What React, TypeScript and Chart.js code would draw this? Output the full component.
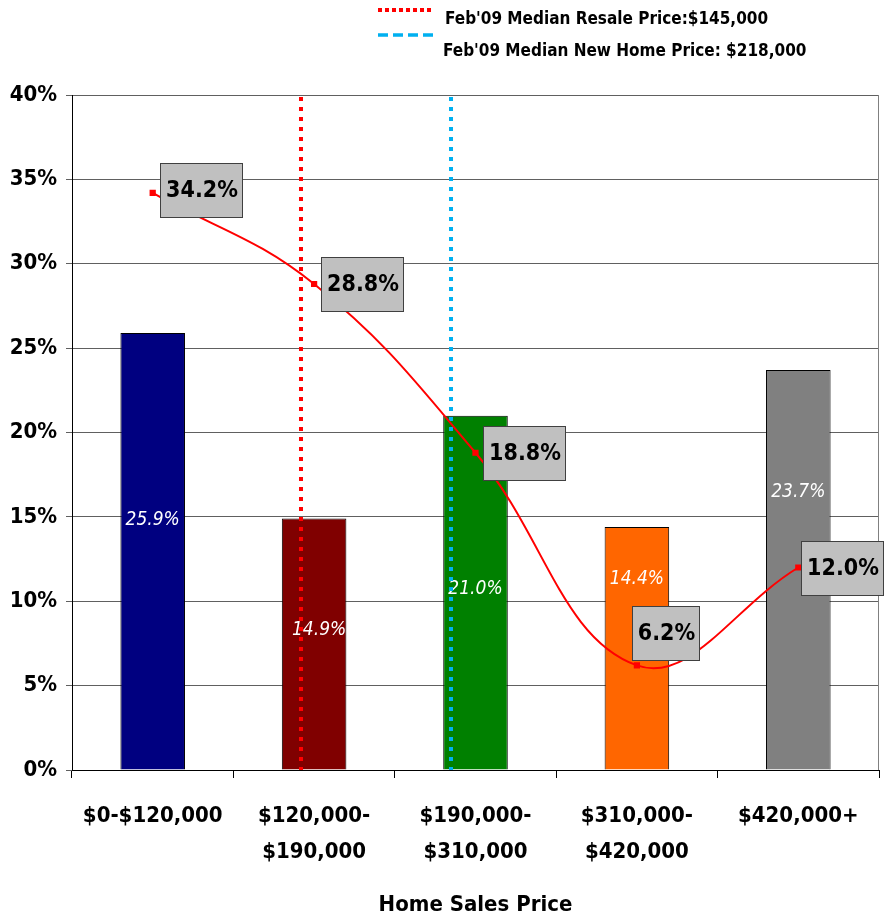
import React, { useEffect, useRef } from "react";
import { Chart, registerables } from "chart.js";

Chart.register(...registerables);

const categories: (string | string[])[] = [
  "$0-$120,000",
  ["$120,000-", "$190,000"],
  ["$190,000-", "$310,000"],
  ["$310,000-", "$420,000"],
  "$420,000+",
];
const salesShare = [25.9, 14.9, 21.0, 14.4, 23.7];
const lineShare = [34.2, 28.8, 18.8, 6.2, 12.0];
const barColors = ["#000080", "#800000", "#008000", "#FF6600", "#808080"];
const barLabelLevel = [14.8, 8.3, 10.7, 11.3, 16.5];
const medianMarkers = [0.92, 1.846];
const medianColors = ["#FF0000", "#00B0F0"];
const yTicks = [0, 5, 10, 15, 20, 25, 30, 35, 40];
const legendLabels = [
  "Feb'09 Median Resale Price:$145,000",
  "Feb'09 Median New Home Price: $218,000",
];
const axisTitle = "Home Sales Price";

const FONT = '"Liberation Sans Narrow", "DejaVu Sans Condensed", "Arial Narrow", sans-serif';
const labelOffsets = [
  [7, -3],
  [7, 0],
  [7, 0],
  [-5, -32],
  [3, 0],
];

const labelPlugin = {
  id: "customLabels",
  beforeDatasetsDraw(chart: any) {
    const ctx = chart.ctx;
    const a = chart.chartArea;
    ctx.save();
    ctx.strokeStyle = "#808080";
    ctx.lineWidth = 1;
    ctx.beginPath();
    ctx.moveTo(Math.round(a.right) - 0.5, a.top);
    ctx.lineTo(Math.round(a.right) - 0.5, a.bottom);
    ctx.stroke();
    ctx.restore();
  },
  afterDatasetDraw(chart: any, args: any) {
    if (args.index !== 0) return;
    const ctx = chart.ctx;
    const { x, y } = chart.scales;
    ctx.save();
    ctx.fillStyle = "#ffffff";
    ctx.font = `italic 19px ${FONT}`;
    ctx.textAlign = "center";
    ctx.textBaseline = "middle";
    args.meta.data.forEach((bar: any, i: number) => {
      const yy = y.getPixelForValue(barLabelLevel[i]);
      ctx.fillText(salesShare[i].toFixed(1) + "%", bar.x + (i === 1 ? 5 : 0), yy);
    });
    // median marker lines
    ctx.lineWidth = 4;
    ctx.setLineDash([4, 6]);
    ctx.lineCap = "butt";
    medianMarkers.forEach((m, i) => {
      const px = Math.round(x.getPixelForValue(m));
      ctx.strokeStyle = medianColors[i];
      ctx.beginPath();
      ctx.moveTo(px, y.getPixelForValue(40) + 2);
      ctx.lineTo(px, y.getPixelForValue(0));
      ctx.stroke();
    });
    ctx.restore();
  },
  afterDatasetsDraw(chart: any) {
    const meta = chart.getDatasetMeta(1);
    const ctx = chart.ctx;
    ctx.save();
    ctx.font = `bold 23px ${FONT}`;
    ctx.textBaseline = "middle";
    ctx.textAlign = "center";
    meta.data.forEach((pt: any, i: number) => {
      const text = lineShare[i].toFixed(1) + "%";
      const w = Math.round(ctx.measureText(text).width + 10);
      const h = 54;
      const x0 = Math.round(pt.x + labelOffsets[i][0]);
      const yc = Math.round(pt.y + labelOffsets[i][1]);
      ctx.fillStyle = "#C0C0C0";
      ctx.fillRect(x0, yc - h / 2, w, h);
      ctx.strokeStyle = "#404040";
      ctx.lineWidth = 1;
      ctx.strokeRect(x0 + 0.5, yc - h / 2 + 0.5, w, h);
      ctx.fillStyle = "#000000";
      ctx.fillText(text, x0 + w / 2 + 1, yc + 1);
    });
    ctx.restore();
  },
};

export default function App() {
  const ref = useRef<HTMLCanvasElement>(null);
  useEffect(() => {
    if (!ref.current) return;
    const chart = new Chart(ref.current, {
      type: "bar",
      data: {
        labels: categories as any,
        datasets: [
          {
            type: "bar",
            data: salesShare,
            backgroundColor: barColors,
            borderColor: "#000000",
            borderWidth: 1,
            barPercentage: 0.8,
            categoryPercentage: 0.5,
            order: 3,
          } as any,
          {
            type: "line",
            data: lineShare,
            borderColor: "#FF0000",
            backgroundColor: "#FF0000",
            borderWidth: 2,
            tension: 0.4,
            pointStyle: "rect",
            pointRadius: 3,
            order: 1,
          } as any,
        ],
      },
      options: {
        animation: false,
        responsive: false,
        maintainAspectRatio: false,
        layout: { padding: { top: 95, right: 3, left: 0, bottom: 0 } },
        plugins: { legend: { display: false }, tooltip: { enabled: false } },
        scales: {
          x: {
            type: "category",
            offset: true,
            grid: {
              offset: true,
              drawOnChartArea: false,
              drawTicks: true,
              tickLength: 8,
              color: "#000000",
            },
            border: { display: true, color: "#000000", width: 1 },
            ticks: {
              color: "#000000",
              font: { family: FONT, size: 22, weight: "bold", lineHeight: 1.6 },
              padding: 21,
              maxRotation: 0,
              autoSkip: false,
            },
            title: {
              display: true,
              text: axisTitle,
              color: "#000000",
              font: { family: FONT, size: 22, weight: "bold" },
              padding: { top: 0, bottom: 5 },
            },
            afterFit: (s: any) => {
              s.height = 153;
              s.paddingLeft = 0;
              s.paddingRight = 0;
            },
          },
          y: {
            min: 0,
            max: 40,
            afterBuildTicks: (s: any) => {
              s.ticks = yTicks.map((v) => ({ value: v }));
            },
            grid: { color: "#606060", tickLength: 6, drawTicks: true },
            border: { display: true, color: "#000000", width: 1 },
            ticks: {
              color: "#000000",
              padding: 9,
              font: { family: FONT, size: 22, weight: "bold" },
              callback: (v: any) => v + "%",
            },
            afterFit: (s: any) => {
              s.width = 72;
            },
          },
        },
      },
      plugins: [labelPlugin],
    } as any);
    return () => chart.destroy();
  }, []);

  const legendText: React.CSSProperties = {
    position: "absolute",
    fontFamily: FONT,
    fontWeight: "bold",
    fontSize: 17,
    color: "#000",
    whiteSpace: "nowrap",
    lineHeight: "20px",
  };

  return (
    <div style={{ position: "absolute", left: 0, top: 0, width: 885, height: 923, background: "#fff" }}>
      <canvas ref={ref} width={885} height={923} style={{ position: "absolute", left: 0, top: 0 }} />
      <svg width={885} height={70} style={{ position: "absolute", left: 0, top: 0 }}>
        <line x1={378} y1={10} x2={432} y2={10} stroke="#FF0000" strokeWidth={4} strokeDasharray="4 3" />
        <line x1={378} y1={35} x2={433} y2={35} stroke="#00B0F0" strokeWidth={3.5} strokeDasharray="10 5" />
      </svg>
      <div style={{ ...legendText, left: 445, top: 8 }}>{legendLabels[0]}</div>
      <div style={{ ...legendText, left: 443, top: 40 }}>{legendLabels[1]}</div>
    </div>
  );
}
